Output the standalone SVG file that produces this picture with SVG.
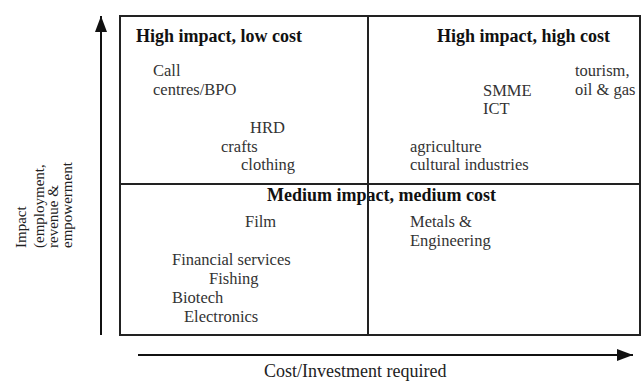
<svg xmlns="http://www.w3.org/2000/svg" width="642" height="381" viewBox="0 0 642 381">
  <style>
    .frame { fill: none; stroke: #222; stroke-width: 2; }
    .axis { stroke: #111; stroke-width: 2; fill: none; }
    .head { font-family: "Liberation Serif", "Times New Roman", serif; font-size: 18px; font-weight: bold; fill: #111; }
    .item { font-family: "Liberation Serif", "Times New Roman", serif; font-size: 16.5px; fill: #333; }
    .label { font-family: "Liberation Serif", "Times New Roman", serif; fill: #222; }
  </style>
  <defs>
    <marker id="arrow" viewBox="0 0 16 12" refX="16" refY="6" markerWidth="16" markerHeight="12" markerUnits="userSpaceOnUse" orient="auto">
      <path d="M0,0 L16,6 L0,12 Z" fill="#111"/>
    </marker>
  </defs>
  <rect width="642" height="381" fill="#fff"/>

  <!-- axes -->
  <g id="connectors">
    <line class="axis" x1="101" y1="335" x2="101" y2="16" marker-end="url(#arrow)"/>
    <line class="axis" x1="138" y1="355" x2="633" y2="355" marker-end="url(#arrow)"/>
  </g>

  <!-- quadrant headings and grid; the divider is drawn over the middle heading -->
  <g id="quadrant-high-low">
    <text class="head" x="136" y="42">High impact, low cost</text>
    <text class="item" x="153" y="76">Call</text>
    <text class="item" x="153" y="95">centres/BPO</text>
    <text class="item" x="250" y="133">HRD</text>
    <text class="item" x="221" y="152">crafts</text>
    <text class="item" x="241" y="170">clothing</text>
  </g>
  <g id="quadrant-high-high">
    <text class="head" x="437" y="42">High impact, high cost</text>
    <text class="item" x="575" y="76">tourism,</text>
    <text class="item" x="575" y="95">oil &amp; gas</text>
    <text class="item" x="483" y="96">SMME</text>
    <text class="item" x="483" y="114">ICT</text>
    <text class="item" x="410" y="152">agriculture</text>
    <text class="item" x="410" y="170">cultural industries</text>
  </g>
  <g id="quadrant-medium">
    <text class="head" x="267" y="201">Medium impact, medium cost</text>
    <text class="item" x="245" y="227">Film</text>
    <text class="item" x="172" y="265">Financial services</text>
    <text class="item" x="209" y="284">Fishing</text>
    <text class="item" x="172" y="303">Biotech</text>
    <text class="item" x="184" y="322">Electronics</text>
    <text class="item" x="410" y="227">Metals &amp;</text>
    <text class="item" x="410" y="246">Engineering</text>
  </g>

  <g id="grid">
    <rect class="frame" x="120" y="16" width="520" height="319"/>
    <line class="frame" x1="120" y1="184" x2="640" y2="184"/>
    <line class="frame" x1="368" y1="16" x2="368" y2="335"/>
  </g>

  <!-- axis titles -->
  <g id="y-title" class="label" font-size="15">
    <text transform="translate(26,248) rotate(-90)">Impact</text>
    <text transform="translate(44,248) rotate(-90)">(employment,</text>
    <text transform="translate(58,248) rotate(-90)">revenue &amp;</text>
    <text transform="translate(72,248) rotate(-90)">empowerment</text>
  </g>
  <g id="x-title" class="label" font-size="18">
    <text x="264" y="377">Cost/Investment required</text>
  </g>
</svg>
